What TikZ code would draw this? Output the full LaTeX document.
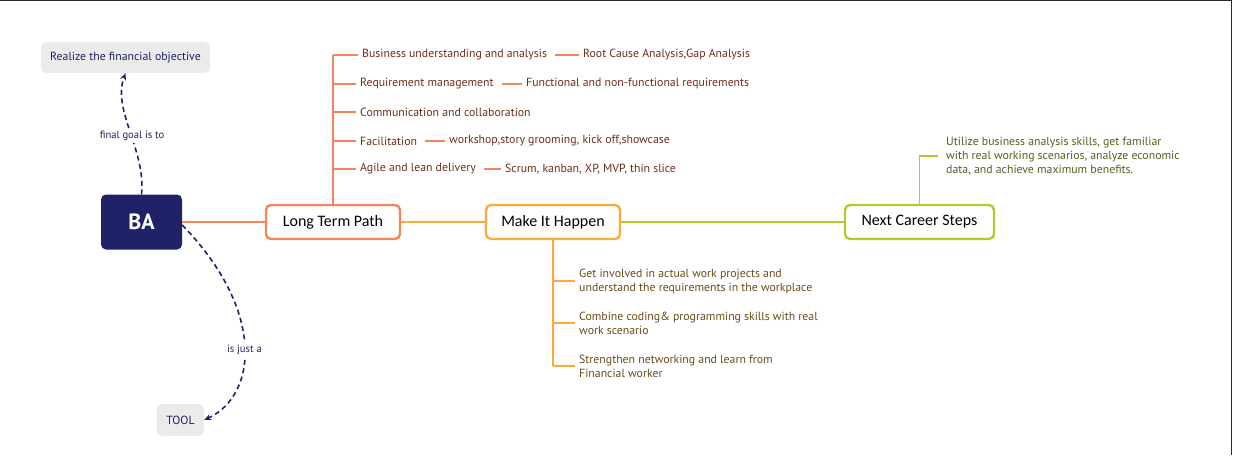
\documentclass[tikz,border=0pt]{standalone}
\usepackage{fontspec}
\setmainfont{PT Sans}
\newfontfamily\nodefont{Carlito}
\usetikzlibrary{arrows.meta,calc}
\definecolor{navy}{HTML}{1F2266}
\definecolor{coral}{HTML}{F5845A}
\definecolor{amber}{HTML}{FBAA3B}
\definecolor{lime}{HTML}{B6C72F}
\definecolor{grayfill}{HTML}{EBEBEB}
\definecolor{brownA}{HTML}{6E2C1A}
\definecolor{brownB}{HTML}{6B4A1A}
\definecolor{oliveC}{HTML}{5B5B1F}
\definecolor{frame}{HTML}{2A2A2A}
\begin{document}
\begin{tikzpicture}[x=1pt,y=-1pt,
  topic/.style={draw,line width=2.4pt,rounded corners=5pt,fill=white,minimum width=134pt,minimum height=34pt,font=\nodefont\fontsize{16}{18}\selectfont,text=black},
  greybox/.style={fill=grayfill,rounded corners=5pt,text=navy,font=\fontsize{11.8}{14}\selectfont},
  leaf/.style={anchor=west,inner xsep=4pt,inner ysep=1pt,font=\fontsize{11.8}{14}\selectfont,align=left},
  rel/.style={navy,line width=1.6pt,dash pattern=on 5pt off 3.5pt,-{Stealth[length=7pt,width=6pt]}},
  rellabel/.style={fill=white,text=navy,font=\fontsize{10.6}{12}\selectfont,inner sep=2pt}
]
\useasboundingbox (0,0) rectangle (1234,460);
% frame
\draw[frame,line width=1.2pt] (0,0.6) -- (1231.5,0.6) -- (1231.5,455);

% central node
\node[fill=navy,rounded corners=5pt,minimum width=81pt,minimum height=55pt,text=white,font=\bfseries\fontsize{22}{26}\selectfont] (ba) at (141.5,222) {BA};
\node[greybox,minimum width=169pt,minimum height=31pt] (goal) at (125.5,57.5) {Realize the financial objective};
\node[greybox,minimum width=47pt,minimum height=32pt] (tool) at (180.5,420) {TOOL};

% topics
\node[topic,draw=coral] (ltp) at (333,222) {Long Term Path};
\node[topic,draw=amber] (mih) at (553,222) {Make It Happen};
\node[topic,draw=lime,minimum width=149pt] (ncs) at (919.5,222) {Next Career Steps};

\draw[coral,line width=2.4pt] (ba.east) -- (ltp.west);
\draw[amber,line width=2.2pt] (ltp.east) -- (mih.west);
\draw[lime,line width=2.2pt] (mih.east) -- (ncs.west);

% Long term path branches
\begin{scope}[every node/.style={leaf,text=brownA}]
\node (b1) at (358,55) {Business understanding and analysis};
\node (r1) at (579,55) {Root Cause Analysis,Gap Analysis};
\node (b2) at (356,84) {Requirement management};
\node (r2) at (522,84) {Functional and non-functional requirements};
\node (b3) at (356,112) {Communication and collaboration};
\node (b4) at (356,141) {Facilitation};
\node (r4) at (445,141) {workshop,story grooming, kick off,showcase};
\node (b5) at (356,169) {Agile and lean delivery};
\node (r5) at (501,169) {Scrum, kanban, XP, MVP, thin slice};
\end{scope}
\draw[coral,line width=2.2pt] (ltp.north) -- (ltp.north |- b1.west);
\begin{scope}[coral,line width=1.5pt]
\foreach \b in {b1,b2,b3,b4,b5} \draw (ltp.north |- \b.west) -- (\b.west);
\begin{scope}[shorten <=4pt]
\draw (b1.east) -- (r1.west);
\draw (b2.east) -- (r2.west);
\draw (b4.east) -- (r4.west);
\draw (b5.east) -- (r5.west);
\end{scope}
\end{scope}

% Make it happen branches
\begin{scope}[every node/.style={leaf,text=brownB}]
\node (m1) at (575,281) {Get involved in actual work projects and\\understand the requirements in the workplace};
\node (m2) at (575,323) {Combine coding\& programming skills with real\\work scenario};
\node (m3) at (575,366) {Strengthen networking and learn from\\Financial worker};
\end{scope}
\draw[amber,line width=1.6pt] (mih.south) -- (mih.south |- m3.west);
\begin{scope}[amber,line width=1.5pt]
\foreach \m in {m1,m2,m3} \draw (mih.south |- \m.west) -- (\m.west);
\end{scope}

% Next career steps
\node[leaf,text=oliveC] (n1) at (942,156) {Utilize business analysis skills, get familiar\\with real working scenarios, analyze economic\\data, and achieve maximum benefits.};
\coordinate (nb) at (938,156);
\draw[lime,line width=1.5pt] (ncs.north) |- (nb);

% relations
\draw[rel] (ba.north) .. controls (146,150) and (112,110) .. node[rellabel,pos=0.5,xshift=2pt,yshift=-5pt]{final goal is to} (goal.south);
\draw[rel] ([yshift=-3pt]ba.east) .. controls (265,310) and (258,395) .. node[rellabel,pos=0.5,yshift=-5pt]{is just a} (tool.east);
\end{tikzpicture}
\end{document}
